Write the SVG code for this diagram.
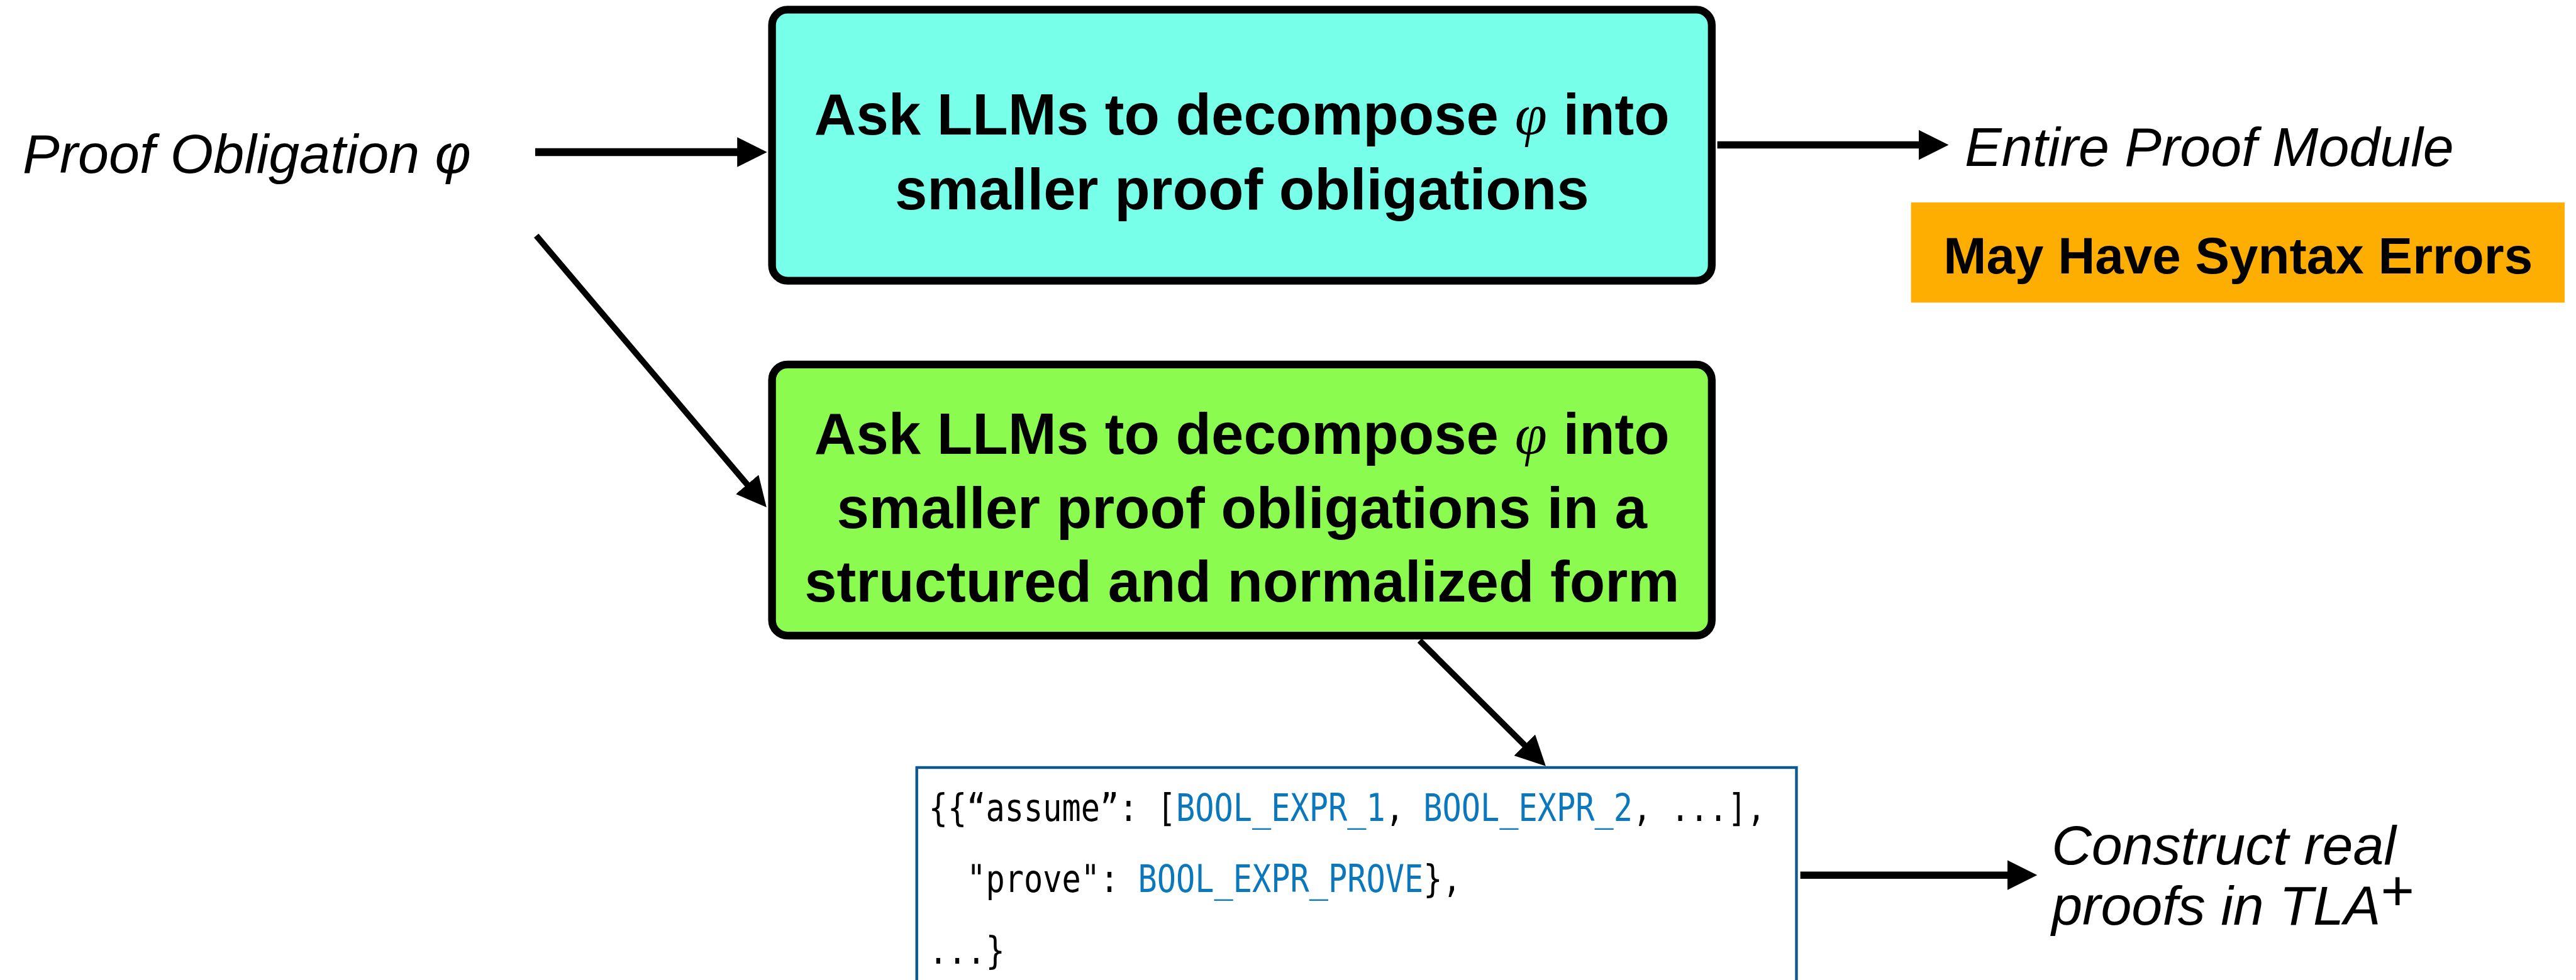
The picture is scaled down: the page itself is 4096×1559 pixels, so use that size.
<svg xmlns="http://www.w3.org/2000/svg" width="4096" height="1559" viewBox="0 0 4096 1559">
<style>
  .lbl { font-family: "Liberation Sans", Arial, sans-serif; font-style: italic; font-size: 100px; fill: #000; }
  .box { font-family: "Liberation Sans", Arial, sans-serif; font-weight: bold; font-size: 105px; fill: #000; text-anchor: middle; }
  .phi { font-family: "Liberation Serif", "Times New Roman", serif; font-style: italic; font-weight: normal; }
  .code { font-family: "DejaVu Sans Mono", "Liberation Mono", monospace; font-size: 57.1px; fill: #000; }
  .kw { fill: #0B77BD; }
  .node { stroke: #000; stroke-width: 14; }
  .conn { stroke: #000; fill: none; }
</style>
<defs>
  <marker id="arrow" markerUnits="userSpaceOnUse" markerWidth="54" markerHeight="54" viewBox="0 0 54 54" refX="14" refY="27" orient="auto">
    <path d="M0,0 L54,27 L0,54 Z" fill="#000"/>
  </marker>
</defs>
<rect width="4096" height="1559" fill="#fff"/>
<g transform="scale(0.88)">
  <g id="input">
    <text class="lbl" x="41" y="312">Proof Obligation φ</text>
  </g>
  <g id="decompose">
    <rect class="node" x="1395" y="17.5" width="1698" height="490" rx="28" fill="#78FFEA"/>
    <text class="box" x="2244" y="243">Ask LLMs to decompose <tspan class="phi">φ</tspan> into</text>
    <text class="box" x="2244" y="378">smaller proof obligations</text>
  </g>
  <g id="entire-module">
    <text class="lbl" x="3550" y="300">Entire Proof Module</text>
  </g>
  <g id="syntax-errors">
    <rect x="3453" y="366" width="1181" height="181" fill="#FDAE00"/>
    <text class="box" x="4044" y="494" style="font-size:93px">May Have Syntax Errors</text>
  </g>
  <g id="decompose-normalized">
    <rect class="node" x="1395" y="659" width="1698" height="490" rx="28" fill="#8BFB4F"/>
    <text class="box" x="2244" y="820">Ask LLMs to decompose <tspan class="phi">φ</tspan> into</text>
    <text class="box" x="2244" y="954">smaller proof obligations in a</text>
    <text class="box" x="2244" y="1087">structured and normalized form</text>
  </g>
  <g id="normalized-json">
    <rect x="1656.5" y="1387.5" width="1589.5" height="420" fill="#fff" stroke="#0E5A8E" stroke-width="5"/>
    <g transform="scale(1,1.2)">
      <text class="code" x="1678" y="1236.7">{{“assume”: [<tspan class="kw">BOOL_EXPR_1</tspan>, <tspan class="kw">BOOL_EXPR_2</tspan>, ...],</text>
      <text class="code" x="1746.8" y="1344.2">"prove": <tspan class="kw">BOOL_EXPR_PROVE</tspan>},</text>
      <text class="code" x="1678" y="1451.7">...}</text>
    </g>
  </g>
  <g id="construct">
    <text class="lbl" x="3707" y="1563">Construct real</text>
    <text class="lbl" x="3707" y="1672">proofs in TLA<tspan style="font-style:normal;font-size:104px" dy="-26">+</tspan></text>
  </g>
  <g id="connectors">
    <line class="conn" x1="967" y1="275" x2="1346" y2="275" stroke-width="14" marker-end="url(#arrow)"/>
    <line class="conn" x1="969" y1="426" x2="1359.1" y2="886.5" stroke-width="11" marker-end="url(#arrow)"/>
    <line class="conn" x1="3103" y1="262" x2="3481" y2="262" stroke-width="13" marker-end="url(#arrow)"/>
    <line class="conn" x1="2565" y1="1158" x2="2764.7" y2="1356.8" stroke-width="11" marker-end="url(#arrow)"/>
    <line class="conn" x1="3253" y1="1582" x2="3641" y2="1582" stroke-width="13" marker-end="url(#arrow)"/>
  </g>
</g>
</svg>
